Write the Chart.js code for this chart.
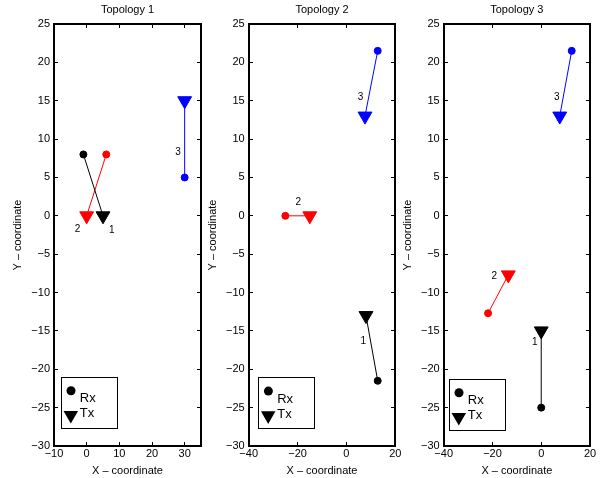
<!DOCTYPE html>
<html>
<head>
<meta charset="utf-8">
<title>Topologies</title>
<script src="https://cdn.jsdelivr.net/npm/chart.js@4.4.1/dist/chart.umd.min.js"></script>
<style>
  html, body { margin: 0; padding: 0; background: #fff; }
  #wrap { position: relative; width: 603px; height: 478px; }
  #wrap canvas { position: absolute; left: 0; top: 0; }
</style>
</head>
<body>
<div id="wrap">
  <canvas id="topo1" width="603" height="478"></canvas>
  <canvas id="topo2" width="603" height="478"></canvas>
  <canvas id="topo3" width="603" height="478"></canvas>
</div>
<script>
/* axis ticks */
var yTicks = [-30, -25, -20, -15, -10, -5, 0, 5, 10, 15, 20, 25];
var xTicks1 = [-10, 0, 10, 20, 30];
var xTicks23 = [-40, -20, 0, 20];

/* link pairs: 1 = black, 2 = red, 3 = blue */
var pairNames = ['1', '2', '3'];
var pairColors = ['#000000', '#ff0000', '#0000ff'];

/* Topology 1 */
var t1RxX = [-1, 6, 30];
var t1RxY = [8, 8, 5];
var t1TxX = [5, 0, 30];
var t1TxY = [0, 0, 15];
var t1LabelX = [7.7, -2.8, 28];
var t1LabelY = [-1.9, -1.8, 8.3];

/* Topology 2 */
var t2RxX = [12.8, -25, 12.8];
var t2RxY = [-21.5, 0, 21.5];
var t2TxX = [8, -15, 7.6];
var t2TxY = [-13, 0, 13];
var t2LabelX = [6.9, -19.7, 5.8];
var t2LabelY = [-16.4, 1.75, 15.4];

/* Topology 3 */
var t3RxX = [0, -21.8, 12.5];
var t3RxY = [-25, -12.7, 21.5];
var t3TxX = [0, -13.5, 7.6];
var t3TxY = [-15, -7.7, 13];
var t3LabelX = [-2.6, -19.3, 6.4];
var t3LabelY = [-16.5, -7.85, 15.5];

(function () {
  'use strict';

  var FONT = '"Liberation Sans", Arial, Helvetica, sans-serif';
  var W = 603, H = 478;
  var BOTTOM = 446;
  var Y_AXIS_W = 41.5, X_AXIS_H = 30.2;

  Chart.defaults.font.family = FONT;
  Chart.defaults.color = '#000';

  function crisp(v) { return Math.floor(v) + 0.5; }
  function minus(v) { return v < 0 ? '\u2212' + Math.abs(v) : String(v); }

  function downTriangle(ctx, cx, cy, r) {
    var s = r * Math.sin(Math.PI / 3);
    ctx.beginPath();
    ctx.moveTo(cx, cy + r);
    ctx.lineTo(cx - s, cy - r / 2);
    ctx.lineTo(cx + s, cy - r / 2);
    ctx.closePath();
  }

  /* box with inward ticks on all four sides */
  var frame = {
    id: 'frame',
    afterDraw: function (chart) {
      var a = chart.chartArea, ctx = chart.ctx, len = 4;
      var l = Math.round(a.left), r = Math.round(a.right), t = Math.round(a.top), b = Math.round(a.bottom);
      ctx.save();
      ctx.strokeStyle = '#000';
      ctx.lineWidth = 1;
      ctx.beginPath();
      chart.scales.x.ticks.forEach(function (tk) {
        var x = crisp(chart.scales.x.getPixelForValue(tk.value));
        ctx.moveTo(x, b); ctx.lineTo(x, b - len);
        ctx.moveTo(x, t); ctx.lineTo(x, t + len);
      });
      chart.scales.y.ticks.forEach(function (tk) {
        var y = crisp(chart.scales.y.getPixelForValue(tk.value));
        ctx.moveTo(l, y); ctx.lineTo(l + len, y);
        ctx.moveTo(r, y); ctx.lineTo(r - len, y);
      });
      ctx.stroke();
      ctx.lineWidth = 2;
      ctx.strokeRect(l, t, r - l, b - t);
      ctx.restore();
    }
  };

  /* small pair numbers next to each link */
  var pairLabels = {
    id: 'pairLabels',
    afterDatasetsDraw: function (chart, args, opts) {
      var ctx = chart.ctx, sx = chart.scales.x, sy = chart.scales.y;
      ctx.save();
      ctx.font = '10px ' + FONT;
      ctx.fillStyle = '#000';
      ctx.textAlign = 'center';
      ctx.textBaseline = 'middle';
      opts.text.forEach(function (txt, i) {
        ctx.fillText(txt, sx.getPixelForValue(opts.x[i]), sy.getPixelForValue(opts.y[i]));
      });
      ctx.restore();
    }
  };

  /* MATLAB-style legend box in the lower left */
  var markerLegend = {
    id: 'markerLegend',
    afterDraw: function (chart, args, opts) {
      var ctx = chart.ctx, x = opts.left, y = opts.top;
      ctx.save();
      ctx.fillStyle = '#fff';
      ctx.fillRect(x, y, 56.5, 51);
      ctx.strokeStyle = '#000';
      ctx.lineWidth = 1;
      ctx.strokeRect(crisp(x), crisp(y), 56, 51);
      ctx.fillStyle = '#000';
      ctx.beginPath();
      ctx.arc(x + 9.7, y + 13.4, 4.5, 0, Math.PI * 2);
      ctx.fill();
      downTriangle(ctx, x + 9.5, y + 37.8, 8.4);
      ctx.fill();
      ctx.font = '13px ' + FONT;
      ctx.textBaseline = 'alphabetic';
      ctx.fillText('Rx', x + 18.5, y + 25);
      ctx.fillText('Tx', x + 18.5, y + 40);
      ctx.restore();
    }
  };

  function build(id, p) {
    var datasets = p.rxX.map(function (v, i) {
      return {
        label: 'Pair ' + pairNames[i],
        data: [{ x: p.rxX[i], y: p.rxY[i] }, { x: p.txX[i], y: p.txY[i] }],
        showLine: true,
        borderColor: pairColors[i],
        backgroundColor: pairColors[i],
        borderWidth: 1,
        pointStyle: ['circle', 'triangle'],
        pointRotation: [0, 180],
        pointRadius: [3.5, 8],
        pointBorderWidth: 1,
        pointBorderColor: pairColors[i],
        pointBackgroundColor: pairColors[i]
      };
    });

    var tickFont = { family: FONT, size: 11, lineHeight: 1 };
    var titleFont = { family: FONT, size: 11, lineHeight: 1 };

    return new Chart(document.getElementById(id), {
      type: 'scatter',
      data: { datasets: datasets },
      options: {
        responsive: false,
        animation: false,
        events: [],
        layout: {
          padding: { left: p.left - Y_AXIS_W, right: W - p.right, top: 0, bottom: H - BOTTOM - X_AXIS_H }
        },
        plugins: {
          legend: { display: false },
          tooltip: { enabled: false },
          title: {
            display: true, text: p.title, fullSize: false, color: '#000',
            font: { family: FONT, size: 11, weight: 'normal', lineHeight: 1.2 },
            padding: { top: 3.4, bottom: 7.4 }
          },
          pairLabels: { x: p.labelX, y: p.labelY, text: pairNames },
          markerLegend: p.legend
        },
        scales: {
          x: {
            type: 'linear', min: p.xMin, max: p.xMax,
            afterBuildTicks: function (s) { s.ticks = p.xTicks.map(function (v) { return { value: v }; }); },
            afterFit: function (s) { s.height = X_AXIS_H; },
            grid: { display: false, drawTicks: false },
            border: { display: false },
            ticks: { padding: 2, font: tickFont, color: '#000', maxRotation: 0, autoSkip: false, callback: minus },
            title: { display: true, text: 'X \u2013 coordinate', font: titleFont, padding: 0, color: '#000' }
          },
          y: {
            type: 'linear', min: -30, max: 25,
            afterBuildTicks: function (s) { s.ticks = yTicks.map(function (v) { return { value: v }; }); },
            afterFit: function (s) { s.width = Y_AXIS_W; },
            grid: { display: false, drawTicks: false },
            border: { display: false },
            ticks: { padding: 4, font: tickFont, color: '#000', autoSkip: false, callback: minus },
            title: { display: true, text: 'Y \u2013 coordinate', font: titleFont, padding: 0, color: '#000' }
          }
        }
      },
      plugins: [frame, pairLabels, markerLegend]
    });
  }

  build('topo1', {
    title: 'Topology 1', left: 54, right: 201, xMin: -10, xMax: 35, xTicks: xTicks1,
    rxX: t1RxX, rxY: t1RxY, txX: t1TxX, txY: t1TxY, labelX: t1LabelX, labelY: t1LabelY,
    legend: { left: 61.3, top: 377.3 }
  });
  build('topo2', {
    title: 'Topology 2', left: 248.7, right: 395.3, xMin: -40, xMax: 20, xTicks: xTicks23,
    rxX: t2RxX, rxY: t2RxY, txX: t2TxX, txY: t2TxY, labelX: t2LabelX, labelY: t2LabelY,
    legend: { left: 258.7, top: 377.7 }
  });
  build('topo3', {
    title: 'Topology 3', left: 443.7, right: 590, xMin: -40, xMax: 20, xTicks: xTicks23,
    rxX: t3RxX, rxY: t3RxY, txX: t3TxX, txY: t3TxY, labelX: t3LabelX, labelY: t3LabelY,
    legend: { left: 449.3, top: 379.3 }
  });
})();
</script>
</body>
</html>
